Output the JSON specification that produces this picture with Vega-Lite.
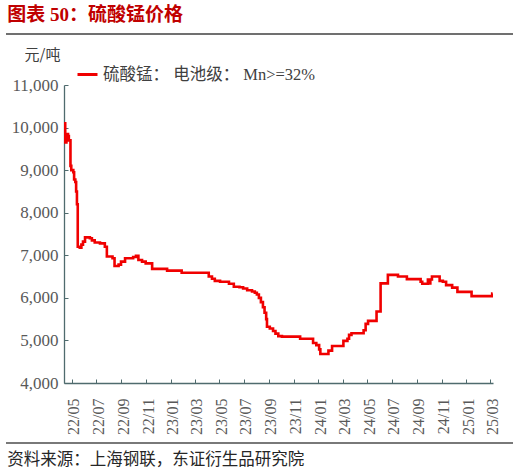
{
  "$schema": "https://vega.github.io/schema/vega-lite/v6.json",
  "padding": {"left": 5, "right": 5, "top": 6, "bottom": 0},
  "background": "white",
  "config": {
    "view": {"stroke": null}
  },
  "spacing": 7,
  "resolve": {"legend": {"color": "independent"}},
  "vconcat": [
    {
      "width": 507,
      "height": 6,
      "title": {
        "text": "图表 50：硫酸锰价格",
        "anchor": "start",
        "color": "#c00000",
        "font": "Liberation Serif, Noto Sans CJK SC",
        "fontSize": 19,
        "fontWeight": "bold",
        "offset": 8,
        "dx": 2
      },
      "data": {"values": [{}]},
      "mark": {"type": "rule", "color": "#404040", "strokeWidth": 1.3},
      "encoding": {
        "y": {"datum": 1, "type": "quantitative", "scale": {"domain": [0, 1]}, "axis": null}
      }
    },
    {
      "spacing": 0,
      "resolve": {"legend": {"color": "independent"}},
      "hconcat": [
        {
          "width": 1,
          "height": 298,
          "data": {"values": []},
          "mark": "point",
          "encoding": {}
        },
        {
          "width": 429,
          "height": 298,
          "data": {
            "values": [
              {"date": "2022-04-12", "price": 10100},
              {"date": "2022-04-15", "price": 9650},
              {"date": "2022-04-18", "price": 9850},
              {"date": "2022-04-22", "price": 9800},
              {"date": "2022-04-24", "price": 9700},
              {"date": "2022-04-28", "price": 9100},
              {"date": "2022-04-30", "price": 9000},
              {"date": "2022-05-05", "price": 8950},
              {"date": "2022-05-07", "price": 8780},
              {"date": "2022-05-10", "price": 8720},
              {"date": "2022-05-12", "price": 8500},
              {"date": "2022-05-14", "price": 8200},
              {"date": "2022-05-16", "price": 7200},
              {"date": "2022-05-21", "price": 7180},
              {"date": "2022-05-25", "price": 7250},
              {"date": "2022-05-29", "price": 7320},
              {"date": "2022-06-03", "price": 7420},
              {"date": "2022-06-15", "price": 7400},
              {"date": "2022-06-20", "price": 7350},
              {"date": "2022-06-27", "price": 7300},
              {"date": "2022-07-10", "price": 7280},
              {"date": "2022-07-22", "price": 7200},
              {"date": "2022-07-27", "price": 6970},
              {"date": "2022-08-10", "price": 6930},
              {"date": "2022-08-15", "price": 6750},
              {"date": "2022-08-25", "price": 6780},
              {"date": "2022-08-31", "price": 6850},
              {"date": "2022-09-10", "price": 6930},
              {"date": "2022-09-30", "price": 6960},
              {"date": "2022-10-07", "price": 6990},
              {"date": "2022-10-13", "price": 6890},
              {"date": "2022-10-22", "price": 6850},
              {"date": "2022-10-31", "price": 6810},
              {"date": "2022-11-16", "price": 6680},
              {"date": "2022-12-23", "price": 6640},
              {"date": "2023-01-28", "price": 6590},
              {"date": "2023-04-05", "price": 6500},
              {"date": "2023-04-13", "price": 6450},
              {"date": "2023-04-20", "price": 6400},
              {"date": "2023-05-03", "price": 6380},
              {"date": "2023-05-25", "price": 6330},
              {"date": "2023-06-06", "price": 6260},
              {"date": "2023-06-20", "price": 6250},
              {"date": "2023-06-29", "price": 6220},
              {"date": "2023-07-09", "price": 6180},
              {"date": "2023-07-21", "price": 6150},
              {"date": "2023-07-28", "price": 6120},
              {"date": "2023-08-02", "price": 6080},
              {"date": "2023-08-07", "price": 6000},
              {"date": "2023-08-12", "price": 5900},
              {"date": "2023-08-17", "price": 5780},
              {"date": "2023-08-21", "price": 5650},
              {"date": "2023-08-25", "price": 5500},
              {"date": "2023-08-27", "price": 5320},
              {"date": "2023-09-03", "price": 5280},
              {"date": "2023-09-11", "price": 5220},
              {"date": "2023-09-17", "price": 5160},
              {"date": "2023-09-24", "price": 5100},
              {"date": "2023-10-03", "price": 5090},
              {"date": "2023-11-17", "price": 5040},
              {"date": "2023-12-19", "price": 4940},
              {"date": "2023-12-27", "price": 4890},
              {"date": "2024-01-03", "price": 4790},
              {"date": "2024-01-06", "price": 4680},
              {"date": "2024-01-26", "price": 4760},
              {"date": "2024-02-04", "price": 4870},
              {"date": "2024-03-03", "price": 4990},
              {"date": "2024-03-13", "price": 5040},
              {"date": "2024-03-17", "price": 5130},
              {"date": "2024-03-23", "price": 5170},
              {"date": "2024-04-22", "price": 5240},
              {"date": "2024-04-27", "price": 5390},
              {"date": "2024-05-03", "price": 5460},
              {"date": "2024-05-24", "price": 5680},
              {"date": "2024-06-03", "price": 6340},
              {"date": "2024-06-21", "price": 6540},
              {"date": "2024-07-16", "price": 6500},
              {"date": "2024-08-07", "price": 6440},
              {"date": "2024-09-10", "price": 6380},
              {"date": "2024-09-14", "price": 6330},
              {"date": "2024-09-28", "price": 6430},
              {"date": "2024-10-01", "price": 6340},
              {"date": "2024-10-04", "price": 6430},
              {"date": "2024-10-08", "price": 6500},
              {"date": "2024-10-27", "price": 6400},
              {"date": "2024-11-04", "price": 6380},
              {"date": "2024-11-12", "price": 6300},
              {"date": "2024-11-27", "price": 6240},
              {"date": "2024-12-10", "price": 6140},
              {"date": "2025-01-14", "price": 6040},
              {"date": "2025-03-06", "price": 6100},
              {"date": "2025-03-07", "price": 6100}
            ]
          },
          "transform": [{"calculate": "'硫酸锰： 电池级： Mn>=32%'", "as": "series"}],
          "mark": {"type": "line", "interpolate": "step-after", "strokeWidth": 2.6, "clip": true},
          "encoding": {
            "x": {
              "field": "date",
              "type": "temporal",
              "scale": {
                "type": "utc",
                "domain": [
                  {"year": 2022, "month": 4, "date": 12, "utc": true},
                  {"year": 2025, "month": 3, "date": 8, "utc": true}
                ]
              },
              "axis": {
                "title": null,
                "format": "%y/%m",
                "tickCount": {"interval": "month", "step": 2},
                "labelAngle": -90,
                "labelAlign": "right",
                "labelBaseline": "middle",
                "labelFont": "Liberation Serif",
                "labelFontSize": 16,
                "labelColor": "#595959",
                "labelPadding": 19,
                "labelOffset": 2,
                "labelFlush": false,
                "labelOverlap": false,
                "tickSize": -4,
                "tickColor": "#4f6b6e",
                "domainColor": "#4f6b6e",
                "domainWidth": 1.3,
                "grid": false
              }
            },
            "y": {
              "field": "price",
              "type": "quantitative",
              "scale": {"domain": [4000, 11000], "nice": false},
              "axis": {
                "title": "元/吨",
                "titleAngle": 0,
                "titleX": -22,
                "titleY": -31,
                "titleAlign": "center",
                "titleBaseline": "middle",
                "titleFont": "Noto Sans CJK SC",
                "titleFontSize": 15,
                "titleFontWeight": "normal",
                "titleColor": "#404040",
                "values": [4000, 5000, 6000, 7000, 8000, 9000, 10000, 11000],
                "format": ",.0f",
                "labelFont": "Liberation Serif",
                "labelFontSize": 17,
                "labelColor": "#595959",
                "labelPadding": 10,
                "tickSize": -4,
                "tickColor": "#4f6b6e",
                "domainColor": "#4f6b6e",
                "domainWidth": 1.3,
                "grid": false,
                "minExtent": 57,
                "maxExtent": 57
              }
            },
            "color": {
              "field": "series",
              "type": "nominal",
              "scale": {"range": ["#f00000"]},
              "legend": {
                "title": null,
                "orient": "none",
                "legendX": 12,
                "legendY": -22,
                "symbolType": "stroke",
                "symbolSize": 400,
                "symbolStrokeWidth": 3,
                "labelFont": "Liberation Serif, Noto Sans CJK SC",
                "labelFontSize": 16.5,
                "labelColor": "#404040",
                "labelOffset": 4,
                "labelLimit": 400
              }
            }
          }
        }
      ]
    },
    {
      "width": 507,
      "height": 8,
      "title": {
        "text": "资料来源：上海钢联，东证衍生品研究院",
        "orient": "bottom",
        "anchor": "start",
        "color": "#262626",
        "font": "Noto Sans CJK SC",
        "fontSize": 16.5,
        "fontWeight": "normal",
        "offset": 1,
        "dx": 2
      },
      "data": {"values": [{}]},
      "mark": {"type": "rule", "color": "#4d4d4d", "strokeWidth": 1.5},
      "encoding": {
        "y": {"datum": 1, "type": "quantitative", "scale": {"domain": [0, 1]}, "axis": null}
      }
    }
  ]
}
